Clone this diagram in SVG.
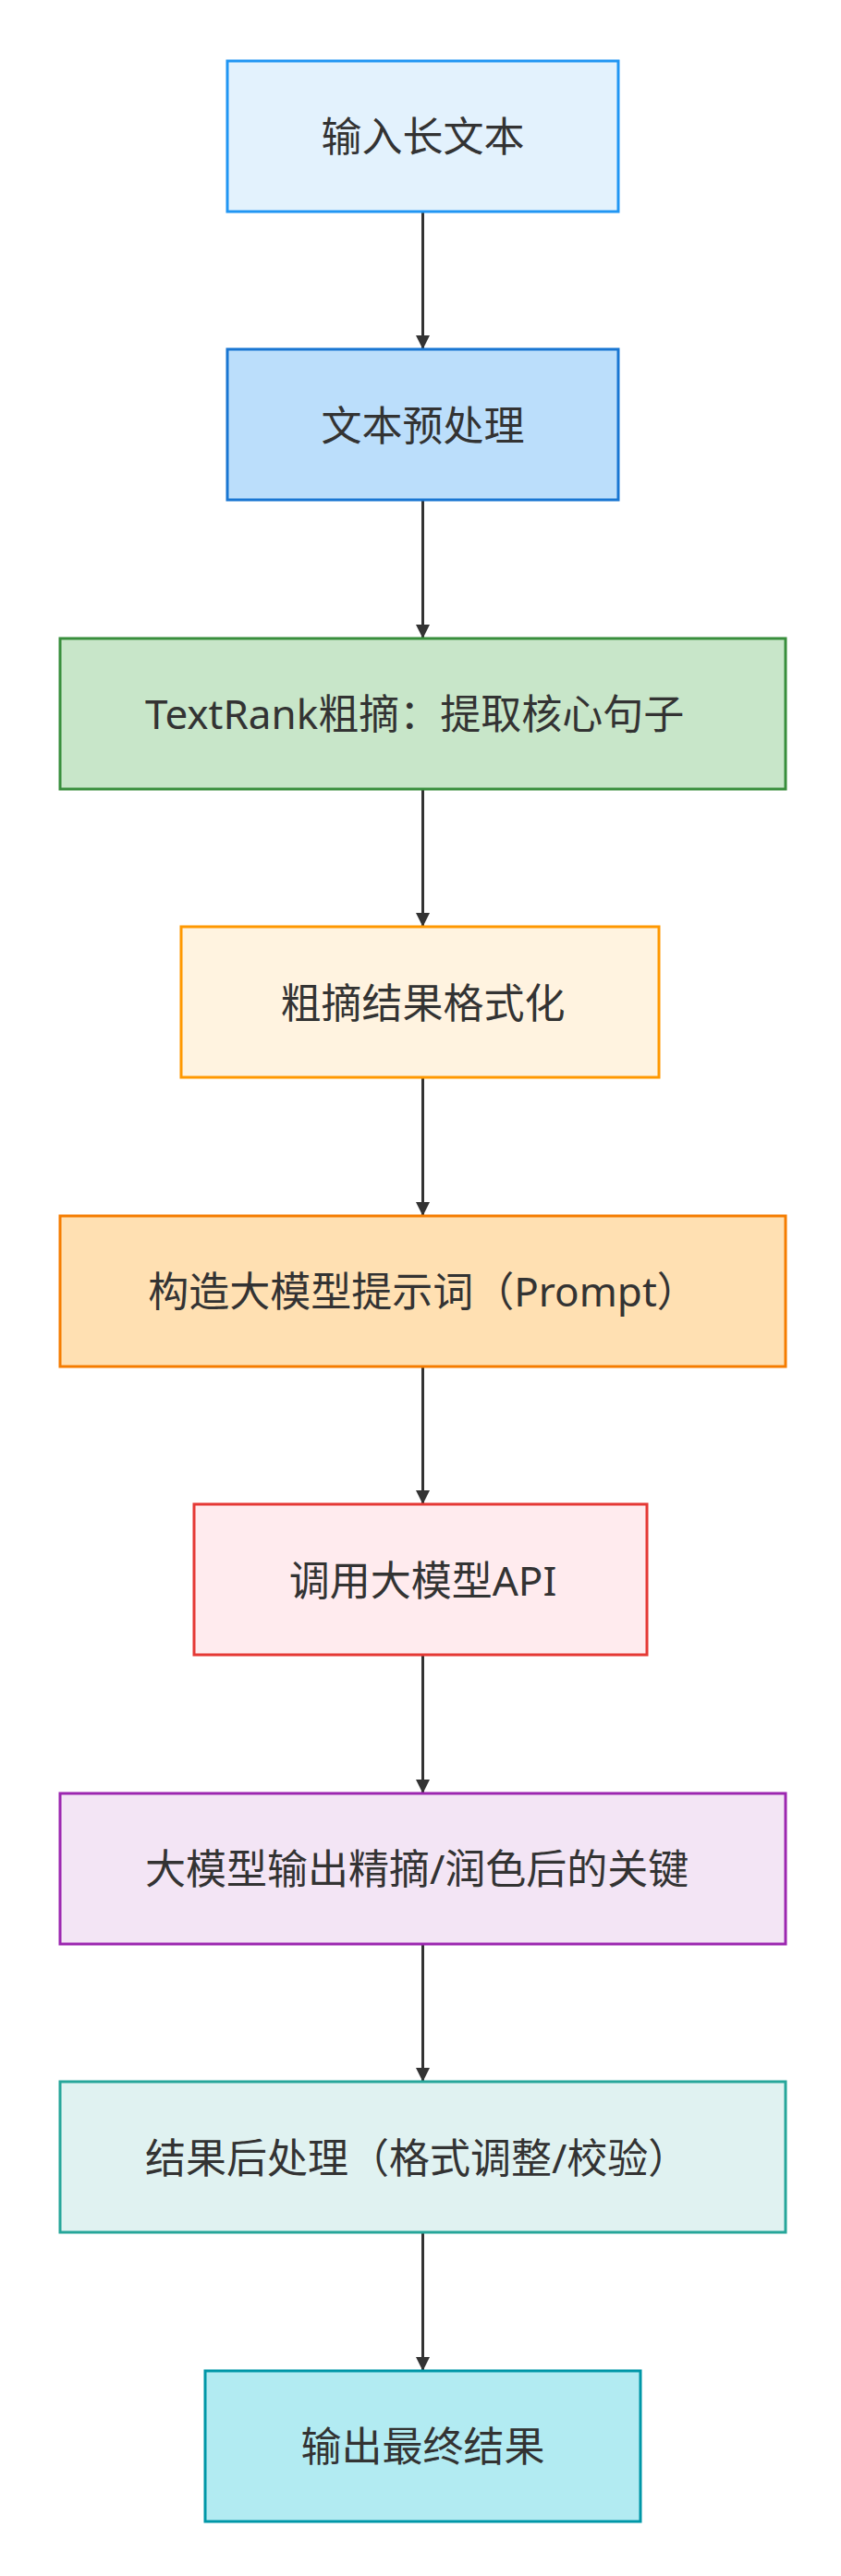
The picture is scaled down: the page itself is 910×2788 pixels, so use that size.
<svg xmlns="http://www.w3.org/2000/svg" width="910" height="2788" viewBox="0 0 910 2788">
<style>
rect.n{stroke-width:3}
text{font-family:"Noto Sans","Noto Sans CJK SC",sans-serif;font-size:44px;fill:#333;dominant-baseline:central}
.c{text-anchor:middle}
.e{stroke:#333;stroke-width:3;fill:none}
</style>
<defs>
<marker id="a" viewBox="0 0 10 10" refX="10" refY="5" markerWidth="5" markerHeight="5" orient="auto" markerUnits="strokeWidth"><path d="M0,0L10,5L0,10z" fill="#333"/></marker>
<clipPath id="k3"><rect x="65" y="692" width="696" height="163"/></clipPath>
<clipPath id="k7"><rect x="65" y="1941" width="696" height="163"/></clipPath>
<clipPath id="k8"><rect x="65" y="2253" width="696" height="163"/></clipPath>
</defs>
<rect width="910" height="2788" fill="#fff"/>
<g id="edges">
<path class="e" d="M457.5,229V378" marker-end="url(#a)"/>
<path class="e" d="M457.5,541V691" marker-end="url(#a)"/>
<path class="e" d="M457.5,854V1003" marker-end="url(#a)"/>
<path class="e" d="M457.5,1166V1316" marker-end="url(#a)"/>
<path class="e" d="M457.5,1479V1628" marker-end="url(#a)"/>
<path class="e" d="M457.5,1791V1941" marker-end="url(#a)"/>
<path class="e" d="M457.5,2104V2253" marker-end="url(#a)"/>
<path class="e" d="M457.5,2416V2566" marker-end="url(#a)"/>
</g>
<g id="n1"><rect class="n" x="246" y="66" width="423" height="163" fill="#e3f2fd" stroke="#2196f3"/><text class="c" x="457.5" y="147">输入长文本</text></g>
<g id="n2"><rect class="n" x="246" y="378" width="423" height="163" fill="#bbdefb" stroke="#1976d2"/><text class="c" x="457.5" y="460">文本预处理</text></g>
<g id="n3"><rect class="n" x="65" y="691" width="785" height="163" fill="#c8e6c9" stroke="#388e3c"/><text x="157" y="772" clip-path="url(#k3)">TextRank粗摘：提取核心句子</text></g>
<g id="n4"><rect class="n" x="196" y="1003" width="517" height="163" fill="#fff3e0" stroke="#ff9800"/><text class="c" x="457.5" y="1085">粗摘结果格式化</text></g>
<g id="n5"><rect class="n" x="65" y="1316" width="785" height="163" fill="#ffe0b2" stroke="#f57c00"/><text class="c" x="457.5" y="1397">构造大模型提示词（Prompt）</text></g>
<g id="n6"><rect class="n" x="210" y="1628" width="490" height="163" fill="#ffebee" stroke="#e53935"/><text class="c" x="457.5" y="1710">调用大模型API</text></g>
<g id="n7"><rect class="n" x="65" y="1941" width="785" height="163" fill="#f3e5f5" stroke="#9c27b0"/><text x="157" y="2022" clip-path="url(#k7)">大模型输出精摘/润色后的关键</text></g>
<g id="n8"><rect class="n" x="65" y="2253" width="785" height="163" fill="#e0f2f1" stroke="#26a69a"/><text x="157" y="2335" clip-path="url(#k8)">结果后处理（格式调整/校验）</text></g>
<g id="n9"><rect class="n" x="222" y="2566" width="471" height="163" fill="#b2ebf2" stroke="#0097a7"/><text class="c" x="457.5" y="2647">输出最终结果</text></g>
</svg>
